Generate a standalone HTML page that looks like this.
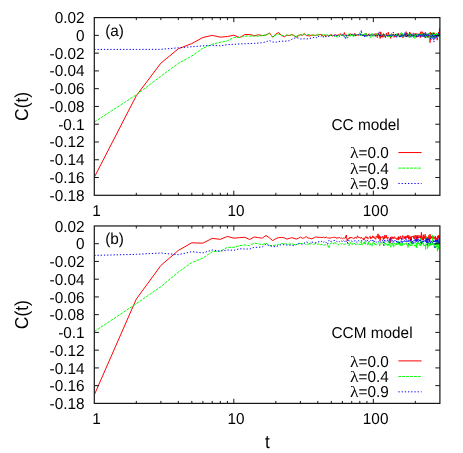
<!DOCTYPE html>
<html><head><meta charset="utf-8"><title>C(t)</title>
<style>html,body{margin:0;padding:0;background:#fff}body{width:463px;height:453px;overflow:hidden;font-family:"Liberation Sans",sans-serif}.tx,.tx text{font-family:"Liberation Sans",sans-serif;text-rendering:geometricPrecision}.lam{font-family:"Liberation Serif",serif}</style>
</head><body>
<svg width="463" height="453" viewBox="0 0 463 453" style="display:block">
<rect x="0" y="0" width="463" height="453" fill="#ffffff"/>
<g class="tx" font-size="15.4" fill="#000" style="opacity:0.999">
<clipPath id="clipa"><rect x="94.3" y="17.6" width="345.59999999999997" height="177.70000000000002"/></clipPath>
<g clip-path="url(#clipa)" fill="none" stroke-linejoin="round">
<polyline points="94.30,177.26 136.30,95.70 160.87,63.18 178.30,48.79 191.82,43.54 202.87,37.50 212.21,35.37 220.30,37.15 227.43,36.53 233.82,35.19 239.59,37.59 244.86,34.48 249.71,34.48 254.20,35.64 258.38,34.84 262.29,35.55 265.97,35.10 269.43,32.88 272.71,37.24 275.82,34.04 278.77,32.53 281.59,35.55 284.28,36.79 286.86,35.10 289.34,35.55 291.71,34.66 294.00,35.37 296.20,37.24 298.33,35.81 300.38,34.66 302.37,35.37 304.29,33.52 306.16,35.38 307.97,35.71 309.72,35.95 311.43,35.13 313.09,35.09 314.71,35.43 316.28,35.23 317.81,35.00 319.31,34.71 320.77,34.43 322.20,35.05 323.59,36.45 324.95,34.69 326.28,36.21 327.59,35.32 328.86,35.75 330.11,35.04 331.33,34.58 332.53,36.16 333.71,35.26 334.87,34.92 336.00,34.77 337.11,35.80 338.20,34.67 339.27,35.19 340.33,33.59 341.36,35.29 342.38,34.96 343.38,35.80 344.37,32.50 345.34,35.49 346.29,34.97 347.23,35.03 348.16,36.00 349.07,35.51 349.97,33.54 350.85,34.34 351.72,35.04 352.58,34.56 353.43,35.76 354.26,33.58 355.09,33.68 355.90,36.14 356.71,35.04 357.50,34.56 358.28,35.39 359.05,34.88 359.81,35.14 360.57,34.04 361.31,34.24 362.04,35.44 362.77,34.99 363.49,34.73 364.20,35.19 364.90,34.62 365.59,34.48 366.27,33.15 366.95,35.96 367.62,35.00 368.28,35.09 368.94,33.80 369.58,35.81 370.23,35.62 370.86,34.60 371.49,34.92 372.11,35.75 372.72,35.68 373.33,34.47 373.94,35.03 374.53,34.79 375.12,33.51 375.71,36.47 376.29,33.69 376.86,36.14 377.43,37.64 378.00,33.12 378.56,34.96 379.11,33.85 379.66,35.01 380.20,38.44 380.74,31.83 381.27,35.36 381.80,37.27 382.33,34.61 382.85,37.28 383.36,33.58 383.87,36.36 384.38,34.35 384.88,36.17 385.38,37.68 385.88,35.87 386.37,33.13 386.85,35.28 387.34,35.32 387.82,36.52 388.29,32.13 388.76,34.34 389.23,35.93 389.69,35.10 390.16,36.93 390.61,38.40 391.07,35.68 391.52,33.71 391.96,33.93 392.41,36.05 392.85,35.91 393.29,33.82 393.72,34.39 394.15,37.39 394.58,36.87 395.01,35.65 395.43,34.12 395.85,36.96 396.26,35.30 396.68,34.55 397.09,34.94 397.50,34.10 397.90,36.02 398.30,33.29 398.70,34.95 399.10,34.93 399.50,35.56 399.89,36.57 400.28,34.60 400.66,35.04 401.05,34.37 401.43,36.70 401.81,36.03 402.19,36.07 402.56,34.20 402.94,37.84 403.31,36.66 403.68,35.08 404.04,35.35 404.41,35.89 404.77,35.64 405.13,36.50 405.49,36.78 405.84,32.55 406.19,31.67 406.55,35.95 406.89,36.98 407.24,36.99 407.59,33.69 407.93,36.62 408.27,35.65 408.61,35.84 408.95,36.37 409.28,36.64 409.62,31.97 409.95,35.59 410.28,36.30 410.61,32.84 410.94,34.08 411.26,34.55 411.58,35.48 411.90,35.14 412.22,34.96 412.54,35.90 412.86,34.76 413.17,34.66 413.49,34.20 413.80,36.76 414.11,34.70 414.42,35.35 414.72,35.69 415.03,33.27 415.33,34.32 415.63,36.51 415.94,33.70 416.23,37.39 416.53,33.71 416.83,35.49 417.12,36.63 417.42,35.89 417.71,33.71 418.00,35.48 418.29,36.54 418.58,36.38 418.86,36.46 419.15,35.51 419.43,35.56 419.71,33.76 420.00,34.09 420.28,37.70 420.55,34.55 420.83,31.71 421.11,35.14 421.38,35.46 421.66,35.63 421.93,36.24 422.20,31.71 422.47,33.90 422.74,35.20 423.01,34.33 423.27,36.15 423.54,33.19 423.80,34.67 424.06,33.41 424.33,34.12 424.59,36.65 424.85,35.33 425.10,37.61 425.36,36.39 425.62,32.43 425.87,34.65 426.13,35.66 426.38,35.23 426.63,34.59 426.88,35.02 427.13,35.87 427.38,34.29 427.63,35.09 427.88,34.53 428.12,35.32 428.37,37.26 428.61,35.27 428.85,34.90 429.09,34.96 429.34,35.89 429.58,35.52 429.81,32.94 430.05,42.63 430.29,32.05 430.53,33.90 430.76,35.91 431.00,33.81 431.23,35.38 431.46,35.33 431.69,34.55 431.92,33.79 432.15,34.91 432.38,33.53 432.61,33.21 432.84,36.77 433.07,36.18 433.29,36.24 433.52,32.65 433.74,35.47 433.96,35.28 434.19,37.66 434.41,32.85 434.63,36.97 434.85,35.05 435.07,38.25 435.29,37.04 435.50,33.83 435.72,36.49 435.94,36.74 436.15,35.85 436.37,36.33 436.58,36.60 436.79,35.49 437.00,35.94 437.22,40.14 437.43,36.99 437.64,36.78 437.85,34.27 438.05,34.56 438.26,35.21 438.47,31.99 438.68,33.32 438.88,35.59 439.09,34.98 439.29,35.74 439.49,28.27 439.70,34.23 439.90,34.34" stroke="#ff0000" stroke-width="1"/>
<polyline points="94.30,122.00 136.30,94.81 160.87,76.15 178.30,63.36 191.82,55.98 202.87,48.25 212.21,44.26 220.30,42.30 227.43,40.88 233.82,37.41 239.59,37.41 244.86,36.08 249.71,36.08 254.20,36.08 258.38,36.08 262.29,35.64 265.97,35.01 269.43,33.42 272.71,36.70 275.82,35.10 278.77,34.30 281.59,35.19 284.28,36.08 286.86,35.01 289.34,35.37 291.71,34.84 294.00,35.73 296.20,36.44 298.33,35.19 300.38,34.93 302.37,34.18 304.29,34.25 306.16,34.93 307.97,34.47 309.72,34.91 311.43,35.72 313.09,34.78 314.71,35.30 316.28,35.48 317.81,33.96 319.31,34.80 320.77,35.67 322.20,35.39 323.59,33.67 324.95,35.51 326.28,34.18 327.59,34.88 328.86,35.68 330.11,36.00 331.33,34.73 332.53,34.18 333.71,36.06 334.87,36.38 336.00,35.66 337.11,37.32 338.20,35.81 339.27,34.80 340.33,34.95 341.36,35.00 342.38,34.67 343.38,36.22 344.37,36.22 345.34,34.97 346.29,37.54 347.23,34.49 348.16,34.24 349.07,34.26 349.97,36.71 350.85,34.42 351.72,35.20 352.58,34.73 353.43,37.40 354.26,35.13 355.09,35.72 355.90,34.96 356.71,34.71 357.50,35.34 358.28,35.36 359.05,35.26 359.81,32.32 360.57,36.03 361.31,36.03 362.04,34.01 362.77,35.23 363.49,34.32 364.20,35.54 364.90,33.26 365.59,35.83 366.27,33.64 366.95,36.73 367.62,35.50 368.28,35.52 368.94,34.70 369.58,34.10 370.23,33.98 370.86,37.69 371.49,34.37 372.11,33.32 372.72,36.50 373.33,37.05 373.94,36.42 374.53,35.88 375.12,34.64 375.71,33.91 376.29,35.21 376.86,33.72 377.43,36.62 378.00,35.68 378.56,35.07 379.11,34.03 379.66,35.96 380.20,34.53 380.74,34.53 381.27,35.34 381.80,34.38 382.33,35.10 382.85,35.04 383.36,35.28 383.87,36.81 384.38,34.25 384.88,35.16 385.38,35.82 385.88,36.16 386.37,35.25 386.85,35.41 387.34,35.05 387.82,34.34 388.29,36.94 388.76,35.38 389.23,36.91 389.69,36.59 390.16,34.18 390.61,36.91 391.07,35.30 391.52,36.41 391.96,34.07 392.41,35.60 392.85,35.47 393.29,36.29 393.72,35.57 394.15,34.84 394.58,35.37 395.01,35.04 395.43,34.05 395.85,35.93 396.26,33.79 396.68,35.94 397.09,34.56 397.50,36.60 397.90,35.99 398.30,35.94 398.70,36.19 399.10,34.64 399.50,35.14 399.89,34.56 400.28,33.39 400.66,34.69 401.05,36.51 401.43,32.43 401.81,33.97 402.19,36.95 402.56,33.38 402.94,35.22 403.31,34.44 403.68,33.84 404.04,34.98 404.41,34.47 404.77,33.99 405.13,34.33 405.49,37.00 405.84,35.66 406.19,36.22 406.55,36.34 406.89,36.57 407.24,34.66 407.59,34.17 407.93,35.99 408.27,33.67 408.61,35.85 408.95,36.90 409.28,37.96 409.62,34.28 409.95,34.92 410.28,33.49 410.61,35.32 410.94,37.68 411.26,37.43 411.58,35.10 411.90,35.46 412.22,36.18 412.54,35.24 412.86,36.38 413.17,35.96 413.49,37.72 413.80,37.24 414.11,34.31 414.42,35.84 414.72,38.46 415.03,36.44 415.33,37.35 415.63,35.15 415.94,36.02 416.23,34.34 416.53,36.18 416.83,35.29 417.12,35.95 417.42,34.68 417.71,34.28 418.00,34.25 418.29,35.41 418.58,34.06 418.86,35.90 419.15,35.94 419.43,36.46 419.71,35.95 420.00,34.23 420.28,35.39 420.55,34.77 420.83,34.22 421.11,36.17 421.38,34.48 421.66,36.30 421.93,33.73 422.20,35.67 422.47,36.22 422.74,35.37 423.01,33.00 423.27,34.71 423.54,34.13 423.80,35.28 424.06,34.51 424.33,36.64 424.59,36.18 424.85,34.15 425.10,35.88 425.36,35.85 425.62,37.54 425.87,35.60 426.13,36.93 426.38,35.65 426.63,37.94 426.88,33.54 427.13,36.88 427.38,34.74 427.63,35.82 427.88,35.78 428.12,33.34 428.37,34.73 428.61,34.93 428.85,33.51 429.09,33.58 429.34,40.75 429.58,37.27 429.81,33.44 430.05,37.69 430.29,35.97 430.53,34.71 430.76,37.70 431.00,36.15 431.23,34.81 431.46,35.74 431.69,33.97 431.92,37.65 432.15,33.75 432.38,35.15 432.61,32.58 432.84,33.88 433.07,33.72 433.29,37.89 433.52,34.59 433.74,37.73 433.96,34.87 434.19,37.04 434.41,35.10 434.63,33.93 434.85,37.82 435.07,35.75 435.29,36.17 435.50,37.70 435.72,35.07 435.94,34.74 436.15,35.99 436.37,35.84 436.58,34.17 436.79,32.93 437.00,35.12 437.22,33.91 437.43,37.43 437.64,36.33 437.85,35.36 438.05,36.58 438.26,35.22 438.47,35.11 438.68,33.95 438.88,34.41 439.09,37.06 439.29,36.12 439.49,34.33 439.70,36.08 439.90,34.90" stroke="#00ff00" stroke-width="1" stroke-dasharray="2.8 1.1"/>
<polyline points="94.30,49.41 136.30,49.41 160.87,49.32 178.30,47.81 191.82,46.74 202.87,45.85 212.21,45.32 220.30,45.85 227.43,44.70 233.82,44.26 239.59,43.99 244.86,43.72 249.71,43.54 254.20,43.37 258.38,43.10 262.29,42.66 265.97,41.86 269.43,40.52 272.71,42.03 275.82,42.21 278.77,41.41 281.59,41.15 284.28,41.23 286.86,41.06 289.34,40.70 291.71,39.37 294.00,38.30 296.20,37.68 298.33,38.04 300.38,38.92 302.37,39.01 304.29,38.75 306.16,39.01 307.97,38.84 309.72,38.48 311.43,38.04 313.09,37.68 314.71,37.15 316.28,37.87 317.81,35.92 319.31,37.11 320.77,36.72 322.20,35.40 323.59,37.45 324.95,36.26 326.28,36.90 327.59,36.52 328.86,36.35 330.11,35.91 331.33,35.20 332.53,36.20 333.71,35.45 334.87,35.33 336.00,35.78 337.11,35.23 338.20,37.01 339.27,36.31 340.33,35.83 341.36,35.37 342.38,34.96 343.38,35.37 344.37,36.41 345.34,38.95 346.29,35.30 347.23,38.26 348.16,36.88 349.07,34.99 349.97,35.29 350.85,34.37 351.72,34.45 352.58,34.23 353.43,35.38 354.26,34.66 355.09,36.30 355.90,34.69 356.71,34.40 357.50,34.61 358.28,34.59 359.05,35.08 359.81,34.75 360.57,35.09 361.31,30.10 362.04,35.41 362.77,35.69 363.49,34.45 364.20,37.39 364.90,34.36 365.59,37.37 366.27,35.34 366.95,36.01 367.62,35.93 368.28,34.32 368.94,36.04 369.58,35.03 370.23,35.86 370.86,35.36 371.49,34.74 372.11,33.79 372.72,35.20 373.33,35.44 373.94,35.43 374.53,36.38 375.12,35.27 375.71,35.79 376.29,35.03 376.86,35.14 377.43,35.90 378.00,34.98 378.56,35.31 379.11,31.72 379.66,37.13 380.20,34.39 380.74,34.33 381.27,36.26 381.80,35.53 382.33,35.09 382.85,35.76 383.36,36.25 383.87,34.17 384.38,36.40 384.88,37.12 385.38,36.44 385.88,35.01 386.37,34.71 386.85,35.67 387.34,35.02 387.82,36.40 388.29,35.65 388.76,34.68 389.23,35.48 389.69,35.84 390.16,33.84 390.61,35.43 391.07,34.73 391.52,36.64 391.96,34.84 392.41,34.95 392.85,35.61 393.29,32.17 393.72,34.75 394.15,35.31 394.58,35.41 395.01,33.68 395.43,33.91 395.85,35.51 396.26,37.34 396.68,34.97 397.09,36.18 397.50,34.71 397.90,33.78 398.30,34.68 398.70,36.12 399.10,35.87 399.50,37.20 399.89,35.69 400.28,36.04 400.66,37.13 401.05,35.11 401.43,36.29 401.81,34.40 402.19,35.09 402.56,36.75 402.94,35.35 403.31,34.42 403.68,35.40 404.04,35.40 404.41,35.16 404.77,32.60 405.13,36.28 405.49,33.84 405.84,36.21 406.19,35.73 406.55,36.89 406.89,34.41 407.24,32.99 407.59,36.32 407.93,36.52 408.27,34.78 408.61,36.15 408.95,36.40 409.28,35.92 409.62,34.60 409.95,35.74 410.28,36.31 410.61,36.37 410.94,37.07 411.26,34.52 411.58,36.47 411.90,35.14 412.22,34.17 412.54,35.14 412.86,36.31 413.17,32.91 413.49,35.68 413.80,34.08 414.11,34.62 414.42,35.13 414.72,35.19 415.03,34.89 415.33,34.77 415.63,35.26 415.94,36.38 416.23,36.88 416.53,34.72 416.83,35.98 417.12,36.77 417.42,35.64 417.71,35.80 418.00,36.58 418.29,35.77 418.58,34.11 418.86,36.17 419.15,33.82 419.43,34.37 419.71,33.69 420.00,35.23 420.28,37.00 420.55,35.98 420.83,35.32 421.11,37.01 421.38,34.67 421.66,35.55 421.93,35.39 422.20,33.92 422.47,34.33 422.74,36.63 423.01,35.22 423.27,35.48 423.54,34.17 423.80,36.72 424.06,32.53 424.33,35.58 424.59,36.95 424.85,35.05 425.10,36.96 425.36,37.49 425.62,36.18 425.87,33.53 426.13,35.26 426.38,35.85 426.63,34.10 426.88,36.73 427.13,36.33 427.38,37.38 427.63,35.95 427.88,34.38 428.12,36.45 428.37,35.45 428.61,34.29 428.85,34.48 429.09,35.24 429.34,35.12 429.58,36.08 429.81,35.89 430.05,35.69 430.29,35.67 430.53,38.69 430.76,35.93 431.00,36.74 431.23,39.66 431.46,34.13 431.69,32.84 431.92,33.91 432.15,34.22 432.38,36.71 432.61,35.03 432.84,38.96 433.07,37.99 433.29,34.18 433.52,33.33 433.74,35.03 433.96,42.07 434.19,35.52 434.41,35.58 434.63,35.76 434.85,36.58 435.07,38.46 435.29,36.27 435.50,36.72 435.72,35.62 435.94,35.98 436.15,36.35 436.37,35.70 436.58,36.03 436.79,38.08 437.00,34.45 437.22,34.18 437.43,34.95 437.64,34.83 437.85,36.37 438.05,37.12 438.26,36.30 438.47,35.60 438.68,36.04 438.88,32.85 439.09,36.41 439.29,35.22 439.49,35.73 439.70,33.53 439.90,35.80" stroke="#0000ff" stroke-width="1" stroke-dasharray="1.3 1.9"/>
</g>
<path d="M94.3 35.37h4.6M439.9 35.37h-4.6M94.3 53.14h4.6M439.9 53.14h-4.6M94.3 70.91h4.6M439.9 70.91h-4.6M94.3 88.68h4.6M439.9 88.68h-4.6M94.3 106.45h4.6M439.9 106.45h-4.6M94.3 124.22h4.6M439.9 124.22h-4.6M94.3 141.99h4.6M439.9 141.99h-4.6M94.3 159.76h4.6M439.9 159.76h-4.6M94.3 177.53h4.6M439.9 177.53h-4.6M136.30 195.3v-2.5M136.30 17.6v2.5M160.87 195.3v-2.5M160.87 17.6v2.5M178.30 195.3v-2.5M178.30 17.6v2.5M191.82 195.3v-2.5M191.82 17.6v2.5M202.87 195.3v-2.5M202.87 17.6v2.5M212.21 195.3v-2.5M212.21 17.6v2.5M220.30 195.3v-2.5M220.30 17.6v2.5M227.43 195.3v-2.5M227.43 17.6v2.5M275.82 195.3v-2.5M275.82 17.6v2.5M300.38 195.3v-2.5M300.38 17.6v2.5M317.81 195.3v-2.5M317.81 17.6v2.5M331.33 195.3v-2.5M331.33 17.6v2.5M342.38 195.3v-2.5M342.38 17.6v2.5M351.72 195.3v-2.5M351.72 17.6v2.5M359.81 195.3v-2.5M359.81 17.6v2.5M366.95 195.3v-2.5M366.95 17.6v2.5M415.33 195.3v-2.5M415.33 17.6v2.5M233.82 195.3v-4.6M233.82 17.6v4.6M373.33 195.3v-4.6M373.33 17.6v4.6" stroke="#151515" stroke-width="1" fill="none"/>
<rect x="94.3" y="17.6" width="345.59999999999997" height="177.70000000000002" fill="none" stroke="#151515" stroke-width="1.2"/>
<text transform="translate(84.60 23.05) scale(0.972 1)" text-anchor="end" font-size="15.8">0.02</text>
<text transform="translate(84.60 40.82) scale(0.972 1)" text-anchor="end" font-size="15.8">0</text>
<text transform="translate(84.60 58.59) scale(0.972 1)" text-anchor="end" font-size="15.8">-0.02</text>
<text transform="translate(84.60 76.36) scale(0.972 1)" text-anchor="end" font-size="15.8">-0.04</text>
<text transform="translate(84.60 94.13) scale(0.972 1)" text-anchor="end" font-size="15.8">-0.06</text>
<text transform="translate(84.60 111.90) scale(0.972 1)" text-anchor="end" font-size="15.8">-0.08</text>
<text transform="translate(84.60 129.67) scale(0.972 1)" text-anchor="end" font-size="15.8">-0.1</text>
<text transform="translate(84.60 147.44) scale(0.972 1)" text-anchor="end" font-size="15.8">-0.12</text>
<text transform="translate(84.60 165.21) scale(0.972 1)" text-anchor="end" font-size="15.8">-0.14</text>
<text transform="translate(84.60 182.98) scale(0.972 1)" text-anchor="end" font-size="15.8">-0.16</text>
<text transform="translate(84.60 200.75) scale(0.972 1)" text-anchor="end" font-size="15.8">-0.18</text>
<text transform="translate(96.60 215.90) scale(0.972 1)" text-anchor="middle" font-size="15.8">1</text>
<text transform="translate(236.12 215.90) scale(0.972 1)" text-anchor="middle" font-size="15.8">10</text>
<text transform="translate(375.63 215.90) scale(0.972 1)" text-anchor="middle" font-size="15.8">100</text>
<text transform="translate(105.20 36.10) scale(0.972 1)" text-anchor="start" font-size="15.8">(a)</text>
<text transform="translate(27.80 106.45) rotate(-90) scale(0.93 1)" text-anchor="middle" font-size="18.7">C(t)</text>
<text transform="translate(331.50 129.70) scale(0.972 1)" text-anchor="start" font-size="15.8">CC model</text>
<text transform="translate(388.80 158.15) scale(0.972 1)" text-anchor="end" font-size="15.8">=0.0</text>
<text transform="translate(358.68 158.15) scale(1.12 1)" text-anchor="end" font-size="15.8"><tspan class="lam">λ</tspan></text>
<path d="M398.4 152.55H421.6" fill="none" stroke="#ff0000" stroke-width="1"/>
<text transform="translate(388.80 173.72) scale(0.972 1)" text-anchor="end" font-size="15.8">=0.4</text>
<text transform="translate(358.68 173.72) scale(1.12 1)" text-anchor="end" font-size="15.8"><tspan class="lam">λ</tspan></text>
<path d="M398.4 168.12H421.6" fill="none" stroke="#00ff00" stroke-width="1" stroke-dasharray="2.8 1.1"/>
<text transform="translate(388.80 189.08) scale(0.972 1)" text-anchor="end" font-size="15.8">=0.9</text>
<text transform="translate(358.68 189.08) scale(1.12 1)" text-anchor="end" font-size="15.8"><tspan class="lam">λ</tspan></text>
<path d="M398.4 183.48H421.6" fill="none" stroke="#0000ff" stroke-width="1" stroke-dasharray="1.3 1.9"/>
<clipPath id="clipb"><rect x="94.3" y="225.95" width="345.59999999999997" height="177.45"/></clipPath>
<g clip-path="url(#clipb)" fill="none" stroke-linejoin="round">
<polyline points="94.30,394.88 136.30,299.06 160.87,265.52 178.30,250.44 191.82,242.81 202.87,243.16 212.21,238.37 220.30,239.35 227.43,236.42 233.82,238.19 239.59,237.66 244.86,237.31 249.71,239.52 254.20,236.95 258.38,237.66 262.29,238.11 265.97,235.44 269.43,237.84 272.71,240.68 275.82,238.55 278.77,237.66 281.59,237.48 284.28,237.84 286.86,239.08 289.34,238.37 291.71,237.66 294.00,238.28 296.20,239.08 298.33,238.37 300.38,237.04 302.37,238.22 304.29,237.92 306.16,236.56 307.97,238.11 309.72,238.14 311.43,238.85 313.09,238.18 314.71,237.29 316.28,236.91 317.81,237.35 319.31,237.36 320.77,237.40 322.20,237.58 323.59,237.07 324.95,237.95 326.28,237.00 327.59,237.89 328.86,237.99 330.11,238.19 331.33,237.69 332.53,237.51 333.71,237.53 334.87,237.00 336.00,238.22 337.11,237.84 338.20,237.88 339.27,237.43 340.33,238.20 341.36,237.90 342.38,238.75 343.38,238.04 344.37,238.15 345.34,238.06 346.29,234.99 347.23,241.07 348.16,238.53 349.07,238.93 349.97,236.97 350.85,238.16 351.72,237.19 352.58,238.10 353.43,238.54 354.26,238.58 355.09,237.07 355.90,237.67 356.71,238.28 357.50,235.72 358.28,237.33 359.05,237.72 359.81,237.33 360.57,238.37 361.31,237.16 362.04,238.23 362.77,239.03 363.49,238.32 364.20,239.68 364.90,237.93 365.59,236.66 366.27,238.14 366.95,236.68 367.62,238.53 368.28,238.72 368.94,237.47 369.58,236.86 370.23,236.38 370.86,239.03 371.49,237.43 372.11,237.88 372.72,235.80 373.33,237.74 373.94,236.65 374.53,238.20 375.12,238.48 375.71,239.30 376.29,235.92 376.86,236.82 377.43,237.53 378.00,233.81 378.56,238.70 379.11,235.29 379.66,238.37 380.20,240.52 380.74,236.50 381.27,237.47 381.80,238.01 382.33,237.14 382.85,236.17 383.36,239.65 383.87,237.24 384.38,238.68 384.88,235.03 385.38,237.86 385.88,237.87 386.37,235.29 386.85,238.02 387.34,238.81 387.82,237.11 388.29,237.24 388.76,237.73 389.23,238.65 389.69,240.71 390.16,242.67 390.61,236.97 391.07,239.65 391.52,238.79 391.96,236.66 392.41,238.35 392.85,236.98 393.29,238.85 393.72,237.24 394.15,237.27 394.58,236.65 395.01,238.53 395.43,238.10 395.85,237.94 396.26,239.05 396.68,239.51 397.09,237.90 397.50,239.53 397.90,239.13 398.30,236.51 398.70,239.85 399.10,237.49 399.50,237.34 399.89,238.77 400.28,236.21 400.66,236.03 401.05,238.54 401.43,237.99 401.81,239.60 402.19,237.69 402.56,235.69 402.94,235.84 403.31,237.23 403.68,237.57 404.04,238.31 404.41,236.64 404.77,238.54 405.13,236.88 405.49,239.26 405.84,235.95 406.19,236.75 406.55,237.73 406.89,236.32 407.24,235.66 407.59,237.65 407.93,235.16 408.27,237.62 408.61,239.23 408.95,235.68 409.28,236.70 409.62,238.59 409.95,238.33 410.28,240.30 410.61,236.69 410.94,241.53 411.26,239.63 411.58,236.40 411.90,236.92 412.22,236.64 412.54,236.89 412.86,236.00 413.17,237.05 413.49,236.84 413.80,238.58 414.11,235.50 414.42,238.69 414.72,238.31 415.03,237.77 415.33,237.81 415.63,237.19 415.94,235.09 416.23,239.23 416.53,236.42 416.83,238.17 417.12,241.06 417.42,239.07 417.71,235.92 418.00,235.07 418.29,238.17 418.58,236.83 418.86,237.15 419.15,238.01 419.43,237.56 419.71,236.89 420.00,235.50 420.28,237.69 420.55,236.36 420.83,238.93 421.11,237.50 421.38,232.35 421.66,236.97 421.93,239.08 422.20,240.01 422.47,237.51 422.74,240.05 423.01,237.19 423.27,234.67 423.54,239.19 423.80,238.10 424.06,236.34 424.33,236.55 424.59,238.07 424.85,238.66 425.10,234.35 425.36,238.46 425.62,236.90 425.87,241.15 426.13,236.63 426.38,238.73 426.63,237.18 426.88,239.80 427.13,237.96 427.38,241.53 427.63,237.40 427.88,238.21 428.12,239.48 428.37,240.35 428.61,237.42 428.85,235.37 429.09,237.56 429.34,238.28 429.58,240.73 429.81,237.04 430.05,234.29 430.29,235.16 430.53,239.21 430.76,237.64 431.00,237.44 431.23,236.49 431.46,237.49 431.69,236.76 431.92,238.38 432.15,236.72 432.38,237.75 432.61,238.90 432.84,236.07 433.07,237.70 433.29,238.37 433.52,237.38 433.74,238.13 433.96,238.03 434.19,238.23 434.41,238.05 434.63,237.42 434.85,237.66 435.07,239.26 435.29,236.10 435.50,241.74 435.72,239.10 435.94,240.41 436.15,239.14 436.37,237.82 436.58,238.52 436.79,239.15 437.00,239.25 437.22,238.07 437.43,241.73 437.64,236.90 437.85,235.87 438.05,238.16 438.26,236.60 438.47,237.77 438.68,235.02 438.88,238.05 439.09,238.49 439.29,236.58 439.49,237.07 439.70,239.79 439.90,238.90" stroke="#ff0000" stroke-width="1"/>
<polyline points="94.30,331.53 136.30,303.67 160.87,286.64 178.30,272.09 191.82,262.59 202.87,258.07 212.21,251.68 220.30,251.15 227.43,247.33 233.82,247.33 239.59,245.65 244.86,244.94 249.71,245.65 254.20,243.07 258.38,243.87 262.29,244.58 265.97,243.16 269.43,245.29 272.71,245.65 275.82,245.03 278.77,244.40 281.59,243.52 284.28,243.69 286.86,244.05 289.34,244.23 291.71,243.87 294.00,244.40 296.20,244.58 298.33,244.05 300.38,243.52 302.37,243.55 304.29,243.15 306.16,245.17 307.97,243.90 309.72,244.54 311.43,243.28 313.09,244.45 314.71,243.96 316.28,243.24 317.81,244.32 319.31,243.90 320.77,244.71 322.20,244.33 323.59,245.65 324.95,244.81 326.28,244.53 327.59,244.68 328.86,248.03 330.11,243.80 331.33,243.17 332.53,242.38 333.71,244.27 334.87,242.11 336.00,243.86 337.11,243.88 338.20,244.84 339.27,244.34 340.33,243.31 341.36,244.30 342.38,243.71 343.38,244.71 344.37,244.36 345.34,243.93 346.29,244.47 347.23,243.98 348.16,242.98 349.07,245.75 349.97,242.24 350.85,243.03 351.72,245.07 352.58,244.05 353.43,242.44 354.26,243.39 355.09,243.84 355.90,245.26 356.71,243.94 357.50,243.99 358.28,244.67 359.05,243.46 359.81,244.72 360.57,244.51 361.31,240.76 362.04,245.29 362.77,244.60 363.49,242.42 364.20,244.04 364.90,241.22 365.59,244.39 366.27,244.83 366.95,244.61 367.62,244.91 368.28,241.91 368.94,245.28 369.58,244.85 370.23,244.92 370.86,243.30 371.49,243.52 372.11,246.24 372.72,243.83 373.33,240.31 373.94,244.00 374.53,243.26 375.12,245.33 375.71,244.04 376.29,245.05 376.86,244.56 377.43,244.12 378.00,243.14 378.56,242.67 379.11,241.97 379.66,246.40 380.20,244.13 380.74,243.49 381.27,241.83 381.80,243.16 382.33,242.78 382.85,243.14 383.36,243.57 383.87,245.73 384.38,243.97 384.88,242.71 385.38,245.05 385.88,243.48 386.37,245.24 386.85,244.61 387.34,245.53 387.82,243.75 388.29,241.30 388.76,245.46 389.23,243.04 389.69,243.90 390.16,245.83 390.61,247.26 391.07,242.81 391.52,243.81 391.96,245.67 392.41,242.71 392.85,244.01 393.29,244.75 393.72,247.17 394.15,243.65 394.58,243.86 395.01,243.24 395.43,245.04 395.85,245.59 396.26,243.20 396.68,245.04 397.09,243.55 397.50,244.40 397.90,244.25 398.30,240.75 398.70,245.06 399.10,244.81 399.50,242.27 399.89,244.10 400.28,245.58 400.66,243.31 401.05,245.76 401.43,243.72 401.81,242.59 402.19,245.63 402.56,242.84 402.94,244.37 403.31,243.44 403.68,243.39 404.04,244.32 404.41,244.46 404.77,244.09 405.13,243.11 405.49,243.68 405.84,243.19 406.19,243.22 406.55,242.73 406.89,245.53 407.24,244.63 407.59,244.48 407.93,247.76 408.27,243.95 408.61,244.97 408.95,245.79 409.28,244.27 409.62,245.29 409.95,242.57 410.28,241.45 410.61,243.92 410.94,245.96 411.26,245.10 411.58,244.68 411.90,243.49 412.22,245.45 412.54,242.87 412.86,243.64 413.17,241.59 413.49,243.24 413.80,243.08 414.11,243.63 414.42,244.23 414.72,246.14 415.03,245.30 415.33,244.74 415.63,245.54 415.94,244.77 416.23,247.90 416.53,242.88 416.83,247.55 417.12,243.78 417.42,244.90 417.71,244.68 418.00,241.05 418.29,242.22 418.58,243.34 418.86,243.99 419.15,242.51 419.43,245.40 419.71,245.52 420.00,245.20 420.28,246.10 420.55,242.50 420.83,238.18 421.11,245.37 421.38,243.36 421.66,244.76 421.93,243.73 422.20,242.67 422.47,242.46 422.74,241.03 423.01,244.10 423.27,244.50 423.54,243.27 423.80,246.25 424.06,244.93 424.33,245.13 424.59,245.73 424.85,244.65 425.10,245.54 425.36,245.31 425.62,249.42 425.87,244.60 426.13,237.30 426.38,238.43 426.63,238.60 426.88,244.33 427.13,243.70 427.38,248.58 427.63,242.91 427.88,247.41 428.12,246.04 428.37,242.31 428.61,244.21 428.85,244.49 429.09,245.71 429.34,244.44 429.58,245.53 429.81,242.26 430.05,243.81 430.29,246.07 430.53,241.89 430.76,243.24 431.00,243.68 431.23,245.70 431.46,244.03 431.69,242.99 431.92,244.38 432.15,243.20 432.38,245.42 432.61,235.30 432.84,243.76 433.07,242.73 433.29,243.78 433.52,243.11 433.74,245.32 433.96,244.26 434.19,247.78 434.41,246.49 434.63,246.27 434.85,243.66 435.07,244.59 435.29,243.32 435.50,244.62 435.72,241.86 435.94,245.05 436.15,243.06 436.37,243.28 436.58,247.31 436.79,240.62 437.00,241.53 437.22,245.01 437.43,251.40 437.64,244.24 437.85,244.80 438.05,239.99 438.26,244.91 438.47,244.26 438.68,249.57 438.88,241.84 439.09,243.31 439.29,245.04 439.49,242.93 439.70,241.89 439.90,240.55" stroke="#00ff00" stroke-width="1" stroke-dasharray="2.8 1.1"/>
<polyline points="94.30,255.41 136.30,254.34 160.87,253.01 178.30,254.70 191.82,251.68 202.87,252.92 212.21,249.99 220.30,251.15 227.43,249.99 233.82,250.26 239.59,248.75 244.86,249.02 249.71,249.02 254.20,247.33 258.38,247.33 262.29,246.89 265.97,244.23 269.43,245.82 272.71,246.53 275.82,246.71 278.77,245.47 281.59,244.58 284.28,244.76 286.86,244.94 289.34,245.11 291.71,245.29 294.00,245.65 296.20,244.58 298.33,243.52 300.38,243.34 302.37,244.65 304.29,243.12 306.16,241.69 307.97,242.53 309.72,243.59 311.43,241.96 313.09,242.40 314.71,242.78 316.28,242.69 317.81,242.12 319.31,241.57 320.77,242.08 322.20,240.78 323.59,242.23 324.95,241.18 326.28,242.69 327.59,244.30 328.86,240.33 330.11,241.74 331.33,241.45 332.53,241.04 333.71,240.41 334.87,240.44 336.00,240.85 337.11,241.93 338.20,240.98 339.27,241.91 340.33,240.72 341.36,241.02 342.38,241.64 343.38,240.38 344.37,241.41 345.34,240.25 346.29,241.81 347.23,243.42 348.16,240.39 349.07,240.85 349.97,240.74 350.85,241.25 351.72,241.03 352.58,241.51 353.43,241.02 354.26,240.97 355.09,240.73 355.90,240.52 356.71,242.32 357.50,240.50 358.28,240.58 359.05,240.99 359.81,241.47 360.57,241.11 361.31,240.79 362.04,240.85 362.77,240.98 363.49,239.43 364.20,241.03 364.90,240.60 365.59,240.76 366.27,242.03 366.95,241.61 367.62,239.74 368.28,240.41 368.94,241.16 369.58,242.24 370.23,240.94 370.86,240.08 371.49,240.56 372.11,241.51 372.72,240.26 373.33,240.41 373.94,240.89 374.53,241.86 375.12,240.65 375.71,241.40 376.29,242.38 376.86,241.37 377.43,241.60 378.00,241.52 378.56,241.52 379.11,240.98 379.66,240.12 380.20,241.84 380.74,242.28 381.27,242.43 381.80,241.29 382.33,240.94 382.85,239.99 383.36,241.23 383.87,245.43 384.38,239.81 384.88,241.82 385.38,240.67 385.88,241.35 386.37,241.17 386.85,241.67 387.34,240.90 387.82,239.14 388.29,240.74 388.76,241.08 389.23,240.89 389.69,242.84 390.16,239.75 390.61,238.50 391.07,241.69 391.52,240.78 391.96,239.87 392.41,241.15 392.85,242.69 393.29,240.30 393.72,241.52 394.15,242.48 394.58,242.07 395.01,240.04 395.43,240.87 395.85,240.93 396.26,240.59 396.68,243.13 397.09,240.63 397.50,241.37 397.90,242.47 398.30,241.94 398.70,241.05 399.10,241.52 399.50,243.91 399.89,241.88 400.28,242.84 400.66,241.71 401.05,241.54 401.43,238.28 401.81,242.14 402.19,243.48 402.56,242.13 402.94,238.72 403.31,239.51 403.68,240.37 404.04,241.80 404.41,239.80 404.77,240.73 405.13,241.19 405.49,240.13 405.84,241.61 406.19,238.73 406.55,241.54 406.89,240.27 407.24,240.70 407.59,240.25 407.93,241.77 408.27,239.84 408.61,243.83 408.95,241.55 409.28,240.65 409.62,241.27 409.95,241.94 410.28,240.32 410.61,241.04 410.94,239.77 411.26,239.01 411.58,243.53 411.90,241.25 412.22,241.35 412.54,240.09 412.86,243.92 413.17,241.02 413.49,241.17 413.80,240.57 414.11,240.65 414.42,241.43 414.72,239.54 415.03,243.16 415.33,241.54 415.63,238.53 415.94,242.37 416.23,239.54 416.53,241.97 416.83,238.93 417.12,236.85 417.42,240.70 417.71,242.55 418.00,242.09 418.29,240.96 418.58,241.27 418.86,238.36 419.15,241.44 419.43,241.81 419.71,240.15 420.00,241.21 420.28,240.06 420.55,239.71 420.83,242.91 421.11,241.96 421.38,241.03 421.66,244.04 421.93,242.37 422.20,240.67 422.47,241.84 422.74,241.53 423.01,239.96 423.27,241.76 423.54,239.14 423.80,242.03 424.06,241.44 424.33,240.54 424.59,240.98 424.85,241.30 425.10,240.33 425.36,240.90 425.62,241.51 425.87,242.47 426.13,239.83 426.38,242.58 426.63,237.96 426.88,243.40 427.13,245.09 427.38,239.21 427.63,239.00 427.88,243.91 428.12,243.45 428.37,240.92 428.61,239.27 428.85,240.96 429.09,238.58 429.34,239.10 429.58,242.02 429.81,240.09 430.05,243.40 430.29,241.02 430.53,242.24 430.76,242.13 431.00,242.79 431.23,242.41 431.46,240.92 431.69,241.94 431.92,243.14 432.15,242.77 432.38,242.28 432.61,241.90 432.84,242.58 433.07,242.11 433.29,241.32 433.52,240.82 433.74,242.72 433.96,240.16 434.19,239.74 434.41,241.99 434.63,241.51 434.85,243.58 435.07,248.65 435.29,242.81 435.50,242.36 435.72,240.28 435.94,240.62 436.15,239.97 436.37,242.61 436.58,241.59 436.79,239.90 437.00,240.65 437.22,242.74 437.43,240.49 437.64,242.37 437.85,238.99 438.05,242.15 438.26,242.99 438.47,242.76 438.68,239.68 438.88,238.73 439.09,240.40 439.29,243.59 439.49,239.86 439.70,239.84 439.90,240.81" stroke="#0000ff" stroke-width="1" stroke-dasharray="1.3 1.9"/>
</g>
<path d="M94.3 243.69h4.6M439.9 243.69h-4.6M94.3 261.44h4.6M439.9 261.44h-4.6M94.3 279.19h4.6M439.9 279.19h-4.6M94.3 296.93h4.6M439.9 296.93h-4.6M94.3 314.67h4.6M439.9 314.67h-4.6M94.3 332.42h4.6M439.9 332.42h-4.6M94.3 350.16h4.6M439.9 350.16h-4.6M94.3 367.91h4.6M439.9 367.91h-4.6M94.3 385.65h4.6M439.9 385.65h-4.6M136.30 403.4v-2.5M136.30 225.95v2.5M160.87 403.4v-2.5M160.87 225.95v2.5M178.30 403.4v-2.5M178.30 225.95v2.5M191.82 403.4v-2.5M191.82 225.95v2.5M202.87 403.4v-2.5M202.87 225.95v2.5M212.21 403.4v-2.5M212.21 225.95v2.5M220.30 403.4v-2.5M220.30 225.95v2.5M227.43 403.4v-2.5M227.43 225.95v2.5M275.82 403.4v-2.5M275.82 225.95v2.5M300.38 403.4v-2.5M300.38 225.95v2.5M317.81 403.4v-2.5M317.81 225.95v2.5M331.33 403.4v-2.5M331.33 225.95v2.5M342.38 403.4v-2.5M342.38 225.95v2.5M351.72 403.4v-2.5M351.72 225.95v2.5M359.81 403.4v-2.5M359.81 225.95v2.5M366.95 403.4v-2.5M366.95 225.95v2.5M415.33 403.4v-2.5M415.33 225.95v2.5M233.82 403.4v-4.6M233.82 225.95v4.6M373.33 403.4v-4.6M373.33 225.95v4.6" stroke="#151515" stroke-width="1" fill="none"/>
<rect x="94.3" y="225.95" width="345.59999999999997" height="177.45" fill="none" stroke="#151515" stroke-width="1.2"/>
<text transform="translate(84.60 231.65) scale(0.972 1)" text-anchor="end" font-size="15.8">0.02</text>
<text transform="translate(84.60 249.39) scale(0.972 1)" text-anchor="end" font-size="15.8">0</text>
<text transform="translate(84.60 267.14) scale(0.972 1)" text-anchor="end" font-size="15.8">-0.02</text>
<text transform="translate(84.60 284.88) scale(0.972 1)" text-anchor="end" font-size="15.8">-0.04</text>
<text transform="translate(84.60 302.63) scale(0.972 1)" text-anchor="end" font-size="15.8">-0.06</text>
<text transform="translate(84.60 320.37) scale(0.972 1)" text-anchor="end" font-size="15.8">-0.08</text>
<text transform="translate(84.60 338.12) scale(0.972 1)" text-anchor="end" font-size="15.8">-0.1</text>
<text transform="translate(84.60 355.86) scale(0.972 1)" text-anchor="end" font-size="15.8">-0.12</text>
<text transform="translate(84.60 373.61) scale(0.972 1)" text-anchor="end" font-size="15.8">-0.14</text>
<text transform="translate(84.60 391.35) scale(0.972 1)" text-anchor="end" font-size="15.8">-0.16</text>
<text transform="translate(84.60 409.10) scale(0.972 1)" text-anchor="end" font-size="15.8">-0.18</text>
<text transform="translate(96.60 424.40) scale(0.972 1)" text-anchor="middle" font-size="15.8">1</text>
<text transform="translate(236.12 424.40) scale(0.972 1)" text-anchor="middle" font-size="15.8">10</text>
<text transform="translate(375.63 424.40) scale(0.972 1)" text-anchor="middle" font-size="15.8">100</text>
<text transform="translate(105.20 244.45) scale(0.972 1)" text-anchor="start" font-size="15.8">(b)</text>
<text transform="translate(27.80 314.67) rotate(-90) scale(0.93 1)" text-anchor="middle" font-size="18.7">C(t)</text>
<text transform="translate(331.50 338.05) scale(0.972 1)" text-anchor="start" font-size="15.8">CCM model</text>
<text transform="translate(388.80 366.50) scale(0.972 1)" text-anchor="end" font-size="15.8">=0.0</text>
<text transform="translate(358.68 366.50) scale(1.12 1)" text-anchor="end" font-size="15.8"><tspan class="lam">λ</tspan></text>
<path d="M398.4 360.90H421.6" fill="none" stroke="#ff0000" stroke-width="1"/>
<text transform="translate(388.80 382.07) scale(0.972 1)" text-anchor="end" font-size="15.8">=0.4</text>
<text transform="translate(358.68 382.07) scale(1.12 1)" text-anchor="end" font-size="15.8"><tspan class="lam">λ</tspan></text>
<path d="M398.4 376.47H421.6" fill="none" stroke="#00ff00" stroke-width="1" stroke-dasharray="2.8 1.1"/>
<text transform="translate(388.80 397.43) scale(0.972 1)" text-anchor="end" font-size="15.8">=0.9</text>
<text transform="translate(358.68 397.43) scale(1.12 1)" text-anchor="end" font-size="15.8"><tspan class="lam">λ</tspan></text>
<path d="M398.4 391.83H421.6" fill="none" stroke="#0000ff" stroke-width="1" stroke-dasharray="1.3 1.9"/>
<text transform="translate(267.40 448.00) scale(0.93 1)" text-anchor="middle" font-size="18.4">t</text>
</g></svg>
</body></html>
